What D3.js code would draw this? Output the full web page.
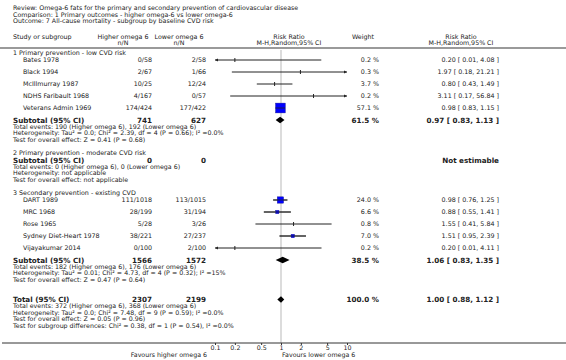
<!DOCTYPE html>
<html><head><meta charset="utf-8">
<script src="https://cdn.jsdelivr.net/npm/d3@7"></script>
<style>
body{margin:0;background:#fff}
svg{display:block}
text{font-family:"DejaVu Sans",Verdana,sans-serif;fill:#222}
</style>
</head><body><svg id="c" width="566" height="360"></svg>
<script>
// ---------------- data ----------------
const titleLines = [
  "Review:  Omega-6 fats for the primary and secondary prevention of cardiovascular disease",
  "Comparison:  1 Primary outcomes - higher omega-6 vs lower omega-6",
  "Outcome:  7 All-cause mortality - subgroup by baseline CVD risk"
];
const groupTitles = ["1 Primary prevention - low CVD risk","2 Primary prevention - moderate CVD risk","3 Secondary prevention - existing CVD"];
const studyGroup = [0,0,0,0,0,2,2,2,2,2];
const studyNames = ["Bates 1978","Black 1994","McIllmurray 1987","NDHS Faribault 1968","Veterans Admin 1969","DART 1989","MRC 1968","Rose 1965","Sydney Diet-Heart 1978","Vijayakumar 2014"];
const higherNN = ["0/58","2/67","10/25","4/167","174/424","111/1018","28/199","5/28","38/221","0/100"];
const lowerNN = ["2/58","1/66","12/24","0/57","177/422","113/1015","31/194","3/26","27/237","2/100"];
const weights = [0.2,0.3,3.7,0.2,57.1,24.0,6.6,0.8,7.0,0.2];
const rr = [0.20,1.97,0.80,3.11,0.98,0.98,0.88,1.55,1.51,0.20];
const ciLow = [0.01,0.18,0.43,0.17,0.83,0.76,0.55,0.41,0.95,0.01];
const ciHigh = [4.08,21.21,1.49,56.84,1.15,1.25,1.41,5.84,2.39,4.11];

const subHigherN = [741,0,1566];
const subLowerN = [627,0,1572];
const subWeight = ["61.5 %",null,"38.5 %"];
const subRR = [0.97,null,1.06];
const subLo = [0.83,null,0.83];
const subHi = [1.13,null,1.35];
const subEvents = ["Total events: 190 (Higher omega 6), 192 (Lower omega 6)","Total events: 0 (Higher omega 6), 0 (Lower omega 6)","Total events: 182 (Higher omega 6), 176 (Lower omega 6)"];
const subHet = ["Heterogeneity: Tau\u00b2 = 0.0; Chi\u00b2 = 2.39, df = 4 (P = 0.66); I\u00b2 =0.0%","Heterogeneity: not applicable","Heterogeneity: Tau\u00b2 = 0.01; Chi\u00b2 = 4.73, df = 4 (P = 0.32); I\u00b2 =15%"];
const subTest = ["Test for overall effect: Z = 0.41 (P = 0.68)","Test for overall effect: not applicable","Test for overall effect: Z = 0.47 (P = 0.64)"];

const totalN = [2307, 2199];
const totalWeight = "100.0 %";
const totalRR = [1.00, 0.88, 1.12];
const totalLines = [
  "Total events: 372 (Higher omega 6), 368 (Lower omega 6)",
  "Heterogeneity: Tau\u00b2 = 0.0; Chi\u00b2 = 7.48, df = 9 (P = 0.59); I\u00b2 =0.0%",
  "Test for overall effect: Z = 0.05 (P = 0.96)",
  "Test for subgroup differences: Chi\u00b2 = 0.38, df = 1 (P = 0.54), I\u00b2 =0.0%"
];
const tickValues = [0.1,0.2,0.5,1,2,5,10];
const tickLabels = ["0.1","0.2","0.5","1","2","5","10"];
const favLeft = "Favours higher omega 6";
const favRight = "Favours lower omega 6";

// ---------------- drawing ----------------
const svg = d3.select("#c");
const x = d3.scaleLog().domain([0.1,10]).range([215,347]);
const fmt = d3.format(".2f");
const ciText = (m,l,h) => `${fmt(m)} [ ${fmt(l)}, ${fmt(h)} ]`;

const X = {left:13, name:23, hi:152, lo:206, hiHead:123, loHead:179, rrHead:289, wHead:363, w:379, rHead:461, r:499};
const SMALL = 6.3, ROW = 6.35, BOLD = 7.2;

function txt(xp, yp, s, size, anchor, weight) {
  return svg.append("text").attr("x", xp).attr("y", yp).attr("dy","0.35em")
    .attr("font-size", size).attr("text-anchor", anchor||"start")
    .attr("font-weight", weight||"normal").text(s);
}

// titles
titleLines.forEach((t,i)=>txt(X.left, 8 + i*6.3, t, SMALL));
// column headers
txt(X.left, 36.5, "Study or subgroup", ROW);
txt(X.hiHead, 36.5, "Higher omega 6", ROW, "middle");
txt(X.hiHead, 42.5, "n/N", SMALL, "middle");
txt(X.loHead, 36.5, "Lower omega 6", ROW, "middle");
txt(X.loHead, 42.5, "n/N", SMALL, "middle");
txt(X.rrHead, 36.5, "Risk Ratio", ROW, "middle");
txt(X.rrHead, 42.5, "M-H,Random,95% CI", SMALL, "middle");
txt(X.wHead, 36.5, "Weight", ROW, "middle");
txt(X.rHead, 36.5, "Risk Ratio", ROW, "middle");
txt(X.rHead, 42.5, "M-H,Random,95% CI", SMALL, "middle");
svg.append("line").attr("x1",0).attr("x2",566).attr("y1",48).attr("y2",48)
  .attr("stroke","#9a9a9a").attr("stroke-width",2);

// axis & null line
const axisY = 343;
svg.append("line").attr("x1",x(1)).attr("x2",x(1)).attr("y1",50).attr("y2",axisY)
  .attr("stroke","#dcdcdc").attr("stroke-width",2);

const gAxis = svg.append("g").attr("transform",`translate(0,${axisY})`);
gAxis.append("line").attr("x1",2).attr("x2",566).attr("y1",0).attr("y2",0).attr("stroke","#333").attr("stroke-width",1);
const axis = d3.axisBottom(x).tickValues(tickValues).tickFormat((d,i)=>tickLabels[i]).tickSize(2).tickPadding(1);
gAxis.call(axis);
gAxis.select(".domain").remove();
gAxis.selectAll(".tick line").attr("stroke","#333");
gAxis.selectAll(".tick text").attr("font-size",SMALL).attr("font-family","DejaVu Sans").attr("fill","#222");
txt(207, 354.5, favLeft, SMALL, "end");
txt(282, 354.5, favRight, SMALL, "start");

function arrow(xp, yp, dir){
  svg.append("path").attr("d",`M${xp},${yp} l${-dir*3},-1.5 l0,3 z`).attr("fill","#222");
}
function studyMark(i, yc){
  const lo = Math.max(ciLow[i],0.1), hi = Math.min(ciHigh[i],10);
  svg.append("line").attr("x1",x(lo)).attr("x2",x(hi)).attr("y1",yc).attr("y2",yc)
    .attr("stroke","#222").attr("stroke-width",1);
  if (ciLow[i] < 0.1) arrow(x(0.1), yc, -1);
  if (ciHigh[i] > 10) arrow(x(10), yc, 1);
  const side = Math.sqrt(weights[i])*1.3;
  if (side < 3) {
    svg.append("line").attr("x1",x(rr[i])).attr("x2",x(rr[i])).attr("y1",yc-2).attr("y2",yc+2)
      .attr("stroke","#222").attr("stroke-width",1);
  } else {
    svg.append("rect").attr("x",x(rr[i])-side/2).attr("y",yc-side/2).attr("width",side).attr("height",side)
      .attr("fill","#0000ff").attr("stroke","#1a1a8a").attr("stroke-width",0.4);
    svg.append("line").attr("x1",x(lo)).attr("x2",x(hi)).attr("y1",yc).attr("y2",yc)
      .attr("stroke","#222").attr("stroke-width",0.8);
  }
}
function diamond(m,l,h,yc){
  svg.append("path").attr("d",`M${x(l)},${yc} L${x(m)},${yc-3.3} L${x(h)},${yc} L${x(m)},${yc+3.3} Z`)
    .attr("fill","#000");
}

let y = 53;
for (let g=0; g<3; g++){
  txt(X.left, y, groupTitles[g], ROW);
  y += 7;
  const idx = d3.range(studyNames.length).filter(i=>studyGroup[i]===g);
  idx.forEach((i)=>{
    txt(X.name, y, studyNames[i], ROW);
    txt(X.hi, y, higherNN[i], ROW, "end");
    txt(X.lo, y, lowerNN[i], ROW, "end");
    txt(X.w, y, weights[i].toFixed(1)+" %", ROW, "end");
    txt(X.r, y, ciText(rr[i],ciLow[i],ciHigh[i]), ROW, "end");
    studyMark(i, y);
    y += 12;
  });
  // subtotal row
  txt(X.left, y, "Subtotal (95% CI)", BOLD, "start", "bold");
  txt(X.hi, y, String(subHigherN[g]), BOLD, "end", "bold");
  txt(X.lo, y, String(subLowerN[g]), BOLD, "end", "bold");
  if (subRR[g] !== null) {
    txt(X.w, y, subWeight[g], BOLD, "end", "bold");
    txt(X.r, y, ciText(subRR[g],subLo[g],subHi[g]), BOLD, "end", "bold");
    diamond(subRR[g],subLo[g],subHi[g],y);
  } else {
    txt(X.r, y, "Not estimable", BOLD, "end", "bold");
  }
  y += 6.7; txt(X.left, y, subEvents[g], SMALL);
  y += 6.5; txt(X.left, y, subHet[g], SMALL);
  y += 6.5; txt(X.left, y, subTest[g], SMALL);
  y += (g<2) ? 13.3 : 19.8;
}
// total
txt(X.left, y, "Total (95% CI)", BOLD, "start", "bold");
txt(X.hi, y, String(totalN[0]), BOLD, "end", "bold");
txt(X.lo, y, String(totalN[1]), BOLD, "end", "bold");
txt(X.w, y, totalWeight, BOLD, "end", "bold");
txt(X.r, y, ciText(totalRR[0],totalRR[1],totalRR[2]), BOLD, "end", "bold");
diamond(totalRR[0],totalRR[1],totalRR[2],y);
totalLines.forEach((t,k)=>{ y += (k===0 ? 6.7 : 6.5); txt(X.left, y, t, SMALL); });
</script>
</body></html>
